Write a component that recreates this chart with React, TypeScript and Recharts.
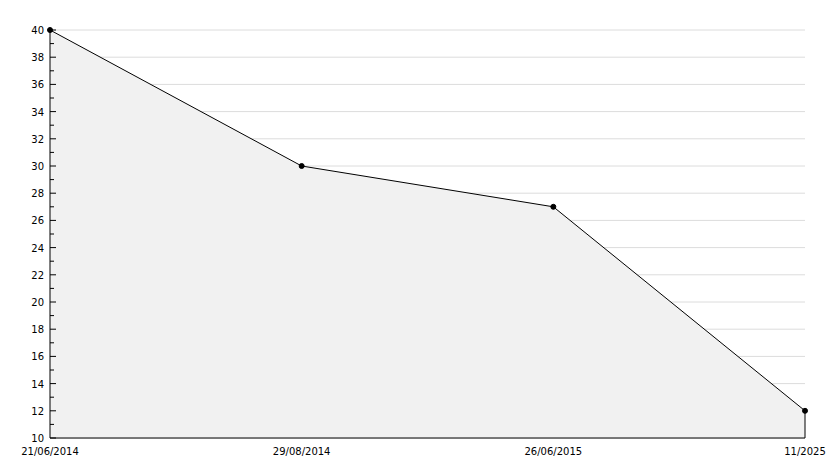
import { AreaChart, Area, XAxis, YAxis, ReferenceLine, CartesianGrid } from 'recharts';

const dates = ['21/06/2014', '29/08/2014', '26/06/2015', '11/2025'];
const values = [40, 30, 27, 12];
const yDomain = [10, 40];
const yTicks = Array.from({ length: 31 }, (_, i) => 10 + i);
const gridTicks = yTicks.filter((v) => v % 2 === 0);

const data = dates.map((d, i) => ({ date: d, value: values[i] }));

const font = 'DejaVu Sans, sans-serif';

// eslint-disable-next-line @typescript-eslint/no-explicit-any
const YTick = (props: any) => {
  const { x, y, payload } = props;
  const major = payload.value % 2 === 0;
  return (
    <g>
      <line x1={x} x2={x + (major ? 6 : 4)} y1={y} y2={y} stroke="#000" />
      {major && (
        <text x={x - 6} y={y} dy={4} textAnchor="end" fontSize={10} fontFamily={font} fill="#000">
          {payload.value}
        </text>
      )}
    </g>
  );
};

// grid only on the even (labelled) values, mapped with the same domain as the y axis
// eslint-disable-next-line @typescript-eslint/no-explicit-any
const gridRows = ({ offset }: any) =>
  gridTicks.map((v) => offset.top + (offset.height * (yDomain[1] - v)) / (yDomain[1] - yDomain[0]));

export default function App() {
  const last = data[data.length - 1];
  return (
    <div style={{ margin: -8, width: 834, height: 468, background: '#fff' }}>
      <AreaChart width={834} height={468} data={data} margin={{ top: 30, right: 29, bottom: 0, left: 0 }}>
        <CartesianGrid vertical={false} stroke="#dcdcdc" horizontalCoordinatesGenerator={gridRows} />
        <XAxis
          dataKey="date"
          height={30}
          tickLine={false}
          tickMargin={4}
          axisLine={{ stroke: '#000' }}
          tick={{ fontSize: 10, fontFamily: font, fill: '#000' }}
          interval={0}
        />
        <YAxis
          type="number"
          domain={yDomain}
          ticks={yTicks}
          interval={0}
          width={50}
          tickSize={0}
          tickMargin={0}
          axisLine={{ stroke: '#000' }}
          tickLine={false}
          tick={<YTick />}
        />
        <Area
          type="linear"
          dataKey="value"
          baseValue={10}
          stroke="#000"
          strokeWidth={1}
          fill="#f1f1f1"
          fillOpacity={1}
          dot={{ r: 2.5, fill: '#000', stroke: '#000', strokeWidth: 1 }}
          activeDot={false}
          isAnimationActive={false}
        />
        <ReferenceLine
          segment={[
            { x: last.date, y: 10 },
            { x: last.date, y: last.value },
          ]}
          stroke="#000"
        />
      </AreaChart>
    </div>
  );
}
